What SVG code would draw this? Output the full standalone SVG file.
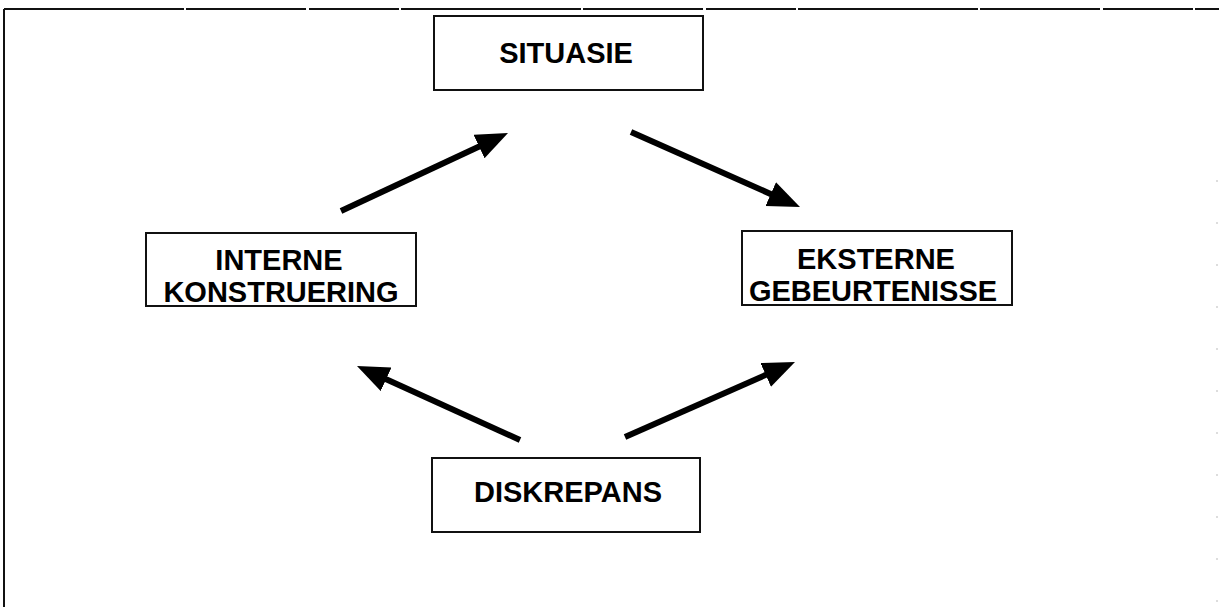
<svg xmlns="http://www.w3.org/2000/svg" width="1219" height="607" viewBox="0 0 1219 607">
<style>
.box{fill:#fff;stroke:#111;stroke-width:2}
.lbl{font-family:"Liberation Sans",Arial,sans-serif;font-weight:bold;font-size:29px;fill:#000;text-anchor:middle}
.conn{stroke:#000;stroke-width:6;fill:none;marker-end:url(#ah)}
.frame{stroke:#111;stroke-width:2;fill:none}
</style>
<defs>
<marker id="ah" markerUnits="userSpaceOnUse" markerWidth="34" markerHeight="28" refX="12" refY="13" orient="auto">
<path d="M0,0 L32,13 L0,26 z" fill="#000"/>
</marker>
</defs>
<g id="frame">
<path class="frame" d="M4,9 H1219" stroke-dasharray="180 2 120 3 90 2"/>
<path class="frame" d="M4,9 V607"/>
<path d="M1217,180 V607" stroke="#bbb" stroke-width="1" stroke-dasharray="2 40" fill="none"/>
</g>
<g id="situasie">
<rect class="box" x="434" y="16" width="269" height="74"/>
<text class="lbl" x="566" y="63">SITUASIE</text>
</g>
<g id="interne">
<rect class="box" x="146" y="233" width="270" height="73"/>
<text class="lbl" x="279" y="270">INTERNE</text>
<text class="lbl" x="281" y="302">KONSTRUERING</text>
</g>
<g id="eksterne">
<rect class="box" x="742" y="231" width="270" height="74"/>
<text class="lbl" x="876" y="269">EKSTERNE</text>
<text class="lbl" x="873" y="301">GEBEURTENISSE</text>
</g>
<g id="diskrepans">
<rect class="box" x="432" y="458" width="268" height="74"/>
<text class="lbl" x="568" y="502">DISKREPANS</text>
</g>
<g id="connectors">
<line class="conn" x1="341" y1="211" x2="489.9" y2="141.5"/>
<line class="conn" x1="631" y1="132" x2="781.7" y2="198.9"/>
<line class="conn" x1="520" y1="440" x2="375.2" y2="374.3"/>
<line class="conn" x1="625" y1="437" x2="776.7" y2="370.1"/>
</g>
</svg>
